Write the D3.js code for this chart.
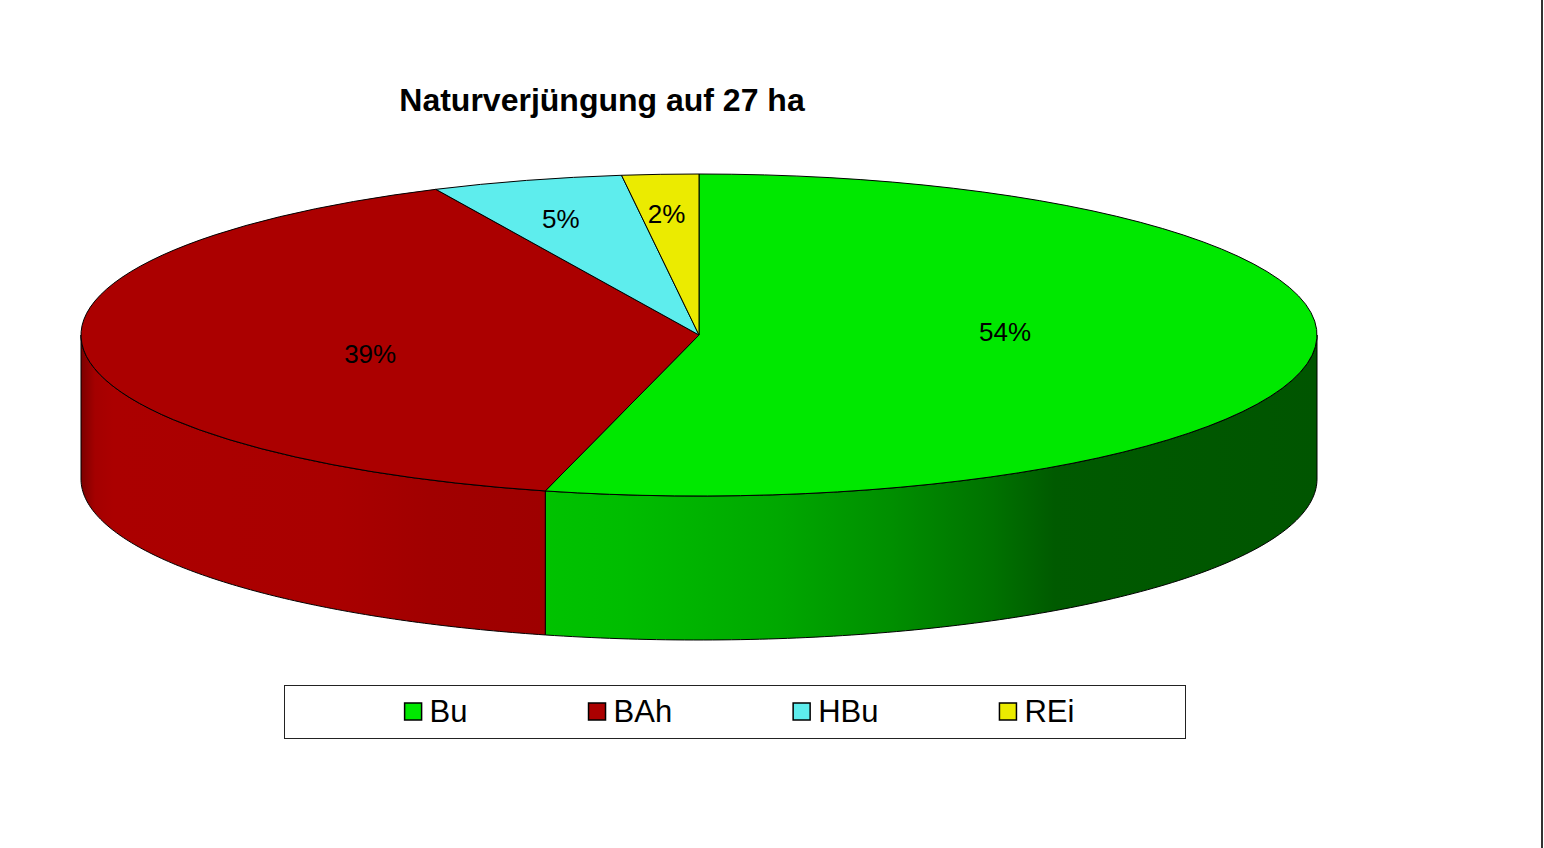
<!DOCTYPE html>
<html>
<head>
<meta charset="utf-8">
<script src="https://cdn.jsdelivr.net/npm/d3@7"></script>
<style>
  body { margin: 0; background: #fff; }
  svg { display: block; }
</style>
</head>
<body>
<div id="chart"></div>
<script>
// data
const title = "Naturverjüngung auf 27 ha";
const species = ["Bu", "BAh", "HBu", "REi"];
const shares = [54, 39, 5, 2];
const topColors = ["#00e800", "#ab0000", "#5eeded", "#ebeb00"];
// side shading stops (offset along the visible side, colour)
const sideShades = [
    [[0, "#00c200"], [0.1, "#00bd00"], [0.3, "#00a800"], [0.45, "#008e00"], [0.58, "#007200"], [0.66, "#005a00"], [1, "#005500"]],
    [[0, "#7c0000"], [0.03, "#a40000"], [0.07, "#ab0000"], [0.55, "#a90000"], [0.75, "#a10000"], [1, "#9e0000"]],
    [[0, "#3fb0b0"], [1, "#3fb0b0"]],
    [[0, "#b0b000"], [1, "#b0b000"]]
];

const width = 1544, height = 848;
const cx = 699, cy = 335, rx = 618, ry = 161, depth = 144;

const svg = d3.select("#chart").append("svg")
    .attr("width", width)
    .attr("height", height);

// right edge frame line
svg.append("line")
    .attr("x1", 1542).attr("x2", 1542)
    .attr("y1", 0).attr("y2", height)
    .attr("stroke", "#333").attr("stroke-width", 2);

// title
svg.append("text")
    .attr("x", 602).attr("y", 111)
    .attr("text-anchor", "middle")
    .style("font-family", "'Liberation Sans', Arial, sans-serif")
    .style("font-weight", "bold")
    .style("font-size", "32px")
    .text(title);

const pie = d3.pie().sort(null).value(d => d)(shares);

// point on the ellipse for an angle measured clockwise from 12 o'clock
const px = (a, k = 1) => cx + k * rx * Math.sin(a);
const py = (a, k = 1) => cy - k * ry * Math.cos(a);

// visible part of each slice's side wall (front half of the ellipse)
const sideRange = p => [Math.max(p.startAngle, Math.PI / 2), Math.min(p.endAngle, 3 * Math.PI / 2)];

const defs = svg.append("defs");
pie.forEach((p, i) => {
    const [a0, a1] = sideRange(p);
    const g = defs.append("linearGradient")
        .attr("id", "side" + i)
        .attr("gradientUnits", "userSpaceOnUse")
        .attr("x1", a1 > a0 ? Math.min(px(a0), px(a1)) : cx - rx)
        .attr("x2", a1 > a0 ? Math.max(px(a0), px(a1)) : cx + rx)
        .attr("y1", 0).attr("y2", 0);
    sideShades[i].forEach(s => {
        g.append("stop").attr("offset", s[0]).attr("stop-color", s[1]);
    });
});

const line = d3.line();
const sides = svg.append("g");
pie.forEach((p, i) => {
    const [a0, a1] = sideRange(p);
    if (a1 <= a0) return;
    const n = 120;
    const angles = d3.range(n + 1).map(k => a0 + (a1 - a0) * k / n);
    const topEdge = angles.map(a => [px(a), py(a)]);
    const bottomEdge = angles.slice().reverse().map(a => [px(a), py(a) + depth]);
    sides.append("path")
        .attr("d", line(topEdge.concat(bottomEdge)) + "Z")
        .attr("fill", `url(#side${i})`)
        .attr("stroke", "#000")
        .attr("stroke-width", 1)
        .attr("stroke-linejoin", "round");
});

// top face
const arc = d3.arc().innerRadius(0).outerRadius(rx);
const topFace = svg.append("g")
    .attr("transform", `translate(${cx},${cy}) scale(1,${ry / rx})`);
topFace.selectAll("path")
    .data(pie)
    .enter()
    .append("path")
    .attr("d", arc)
    .attr("fill", (d, i) => topColors[i])
    .attr("stroke", "#000")
    .attr("stroke-width", 1)
    .attr("stroke-linejoin", "round")
    .attr("vector-effect", "non-scaling-stroke");

// percentage labels (big slices: inner, small slices: near the rim)
const total = d3.sum(shares);
const labelPos = d => {
    const big = d.data / total > 0.1;
    const a = d.startAngle + 0.45 * (d.endAngle - d.startAngle);
    const k = big ? 0.52 : 0.76;
    return [px(a, k) - (big ? 15 : 0), py(a, k)];
};
svg.append("g").selectAll("text")
    .data(pie)
    .enter()
    .append("text")
    .attr("x", d => labelPos(d)[0])
    .attr("y", d => labelPos(d)[1] + 10)
    .attr("text-anchor", "middle")
    .style("font-family", "'Liberation Sans', Arial, sans-serif")
    .style("font-size", "26px")
    .attr("fill", "#000")
    .text(d => Math.round(d.data / total * 100) + "%");

// legend
const legendBox = { x: 284, y: 685, w: 901, h: 53 };
const legend = svg.append("g");
legend.append("rect")
    .attr("x", legendBox.x + 0.5).attr("y", legendBox.y + 0.5)
    .attr("width", legendBox.w).attr("height", legendBox.h)
    .attr("fill", "#fff")
    .attr("stroke", "#222").attr("stroke-width", 1);

const items = legend.selectAll("g.item")
    .data(species)
    .enter()
    .append("g")
    .attr("class", "item");

items.append("rect")
    .attr("width", 17).attr("height", 17)
    .attr("y", legendBox.y + 18)
    .attr("fill", (d, i) => topColors[i])
    .attr("stroke", "#000").attr("stroke-width", 1.5);

items.append("text")
    .attr("x", 25)
    .attr("y", legendBox.y + 37)
    .style("font-family", "'Liberation Sans', Arial, sans-serif")
    .style("font-size", "31px")
    .text(d => d);

// lay the items out in one row
const gap = 121;
const widths = [];
items.each(function () {
    widths.push(25 + d3.select(this).select("text").node().getComputedTextLength());
});
const rowWidth = d3.sum(widths) + gap * (widths.length - 1);
let xPos = legendBox.x + (legendBox.w - rowWidth) / 2 + 5;
items.each(function (d, i) {
    d3.select(this).attr("transform", `translate(${xPos},0)`);
    xPos += widths[i] + gap;
});
</script>
</body>
</html>
